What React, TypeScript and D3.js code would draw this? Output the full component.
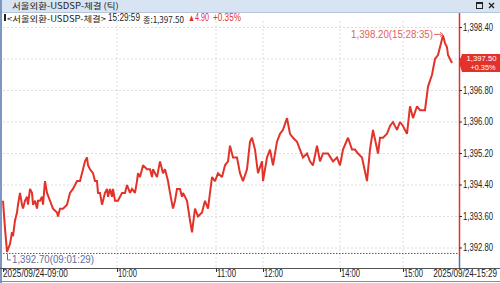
import React from "react";
import * as d3 from "d3";

// tick sequence number (order of trades along the session)
const seq = [0,2,4,7,9,10,12,14,15,17,19,20,22,24,25,27,29,30,32,34,35,37,39,40,42,44,47,50,54,55,57,60,64,67,70,74,77,79,82,84,85,87,90,92,94,95,97,99,102,104,105,107,109,110,112,115,119,122,124,127,129,132,134,135,137,140,144,147,149,150,154,157,159,160,162,165,167,170,172,174,177,179,180,184,187,189,192,195,199,202,205,209,212,215,219,222,225,227,230,234,237,240,244,247,249,252,255,259,260,264,267,270,274,277,280,284,287,290,294,297,300,304,307,310,314,317,320,325,330,334,337,340,345,349,352,355,359,364,367,370,375,377,380,384,387,390,394,397,400,404,407,410,414,417,422,425,429,432,435,439,440,442,444,445,449];
const prices = [1394.0,1393.3,1392.7,1392.9,1393.2,1393.1,1393.5,1393.7,1393.9,1394.2,
1393.9,1393.8,1394.0,1394.1,1393.9,1394.3,1394.2,1393.9,1394.0,1393.8,
1394.0,1394.0,1394.1,1393.9,1394.5,1394.2,1394.0,1393.8,1393.7,1393.6,
1393.8,1393.8,1393.9,1394.2,1394.3,1394.5,1394.5,1394.7,1395.0,1395.1,
1394.9,1394.8,1394.7,1394.5,1394.5,1394.2,1394.2,1393.9,1394.2,1394.3,
1394.1,1394.3,1394.1,1394.3,1394.0,1394.0,1394.2,1394.2,1394.4,1394.2,
1394.3,1394.2,1394.5,1394.7,1394.6,1394.9,1394.8,1394.8,1394.6,1394.8,
1394.6,1395.0,1394.8,1394.7,1394.8,1394.5,1394.2,1393.8,1394.0,1394.3,
1394.3,1394.1,1394.2,1394.0,1393.5,1393.2,1393.8,1393.6,1393.7,1394.0,
1393.8,1394.6,1394.5,1394.7,1394.6,1394.9,1395.0,1395.4,1395.1,1395.1,
1394.7,1394.5,1394.8,1395.5,1395.6,1395.3,1394.7,1395.0,1394.5,1395.1,
1395.3,1394.9,1395.5,1395.7,1395.8,1396.1,1395.7,1395.6,1395.5,1395.3,
1395.1,1395.2,1395.0,1394.9,1395.4,1395.0,1395.2,1395.2,1395.0,1395.1,
1394.9,1395.3,1395.6,1395.3,1395.3,1395.2,1395.1,1394.5,1395.3,1395.8,
1395.2,1395.6,1395.6,1395.7,1395.9,1396.0,1395.8,1396.0,1395.9,1395.7,
1396.4,1396.1,1396.4,1396.3,1396.3,1396.9,1397.2,1397.6,1397.7,1398.1,
1398.2,1398.0,1397.9,1397.7,1397.5];

const yTicks = [1398.4, 1397.6, 1396.8, 1396.0, 1395.2, 1394.4, 1393.6, 1392.8];
const timeTickLabels = ["10:00", "11:00", "12:00", "14:00", "15:00"];
const timeTickSeq = [114, 213, 260, 337, 400];
const startLabel = "2025/09/24-09:00";
const endLabel = "2025/09/24-15:29";
const seqEnd = 456;

const titleText = "서울외환-USDSP-체결 (틱)";
const legendName = "<서울외환-USDSP-체결>";
const legendTime = "15:29:59";
const legendClose = "종:1,397.50";
const legendChg = "▲4.90";
const legendPct = "+0.35%";
const lastPrice = 1397.5;
const lastPct = "+0.35%";
const maxLabel = "1,398.20(15:28:35)";
const minLabel = "1,392.70(09:01:29)";

const FONT = "'Noto Sans CJK KR', 'Liberation Sans', sans-serif";
const NUMFONT = "'Liberation Sans', Arial, sans-serif";
const RED = "#e2322a";

const fmt = d3.format(",.2f");

let measureCtx: CanvasRenderingContext2D | null = null;
function measure(text: string, size: number, font: string): number {
  if (!measureCtx && typeof document !== "undefined") {
    measureCtx = document.createElement("canvas").getContext("2d");
  }
  if (!measureCtx) return text.length * size * 0.55;
  measureCtx.font = `${size}px ${font}`;
  return measureCtx.measureText(text).width || text.length * size * 0.55;
}

function T(props: any) {
  const { x, y, len, size = 10, fill = "#222", anchor = "start", font = NUMFONT, children } = props;
  const str = String(children);
  const natural = measure(str, size, font);
  const sx = len ? len / natural : 1;
  return (
    <text transform={`translate(${x},${y}) scale(${sx},1)`} x={0} y={0} fontSize={size}
      fill={fill} textAnchor={anchor} fontFamily={font} dominantBaseline="central">{str}</text>
  );
}

export default function App() {
  const W = 500, H = 283;
  const x = d3.scaleLinear().domain([0, seqEnd]).range([3, 459]);
  const y = d3.scaleLinear().domain([1392.8, 1398.4]).range([248, 27.5]);
  const data = seq.map((s, i) => [s, prices[i]] as [number, number]);
  const line = d3.line<[number, number]>().x(d => x(d[0])).y(d => y(d[1]));

  const maxI = d3.maxIndex(prices);
  const minI = d3.minIndex(prices);
  const maxX = x(seq[maxI]), maxY = y(prices[maxI]);
  const minX = x(seq[minI]), minY = y(prices[minI]);
  const lastY = y(lastPrice);
  const plotTop = 13, plotBottom = 268;

  return (
    <svg width={W} height={H} style={{ position: "absolute", left: 0, top: 0, background: "#fff" }}>
      {/* title bar */}
      <rect x={0} y={0} width={W} height={12} fill="#d8e4f1" />
      <line x1={0} x2={W} y1={12.5} y2={12.5} stroke="#b4c6dc" />
      <T x={12} y={6} len={107} size={8.5} font={FONT} fill="#1e1e1e">{titleText}</T>
      <rect x={476.5} y={2.5} width={6} height={6} fill="none" stroke="#222" />
      <line x1={476.5} x2={482.5} y1={3.5} y2={3.5} stroke="#222" />
      <path d="M489,3 L494,8 M494,3 L489,8" stroke="#222" strokeWidth={1.3} />

      {/* left strip */}
      <rect x={0} y={0} width={2} height={H} fill="#7d97c2" />

      {/* legend */}
      <rect x={4} y={14} width={2} height={7} fill="#222" />
      <T x={7} y={18.5} len={99} size={8.5} font={FONT}>{legendName}</T>
      <T x={108} y={18} len={32} size={10}>{legendTime}</T>
      <T x={143} y={18.5} len={41} size={8.5} font={FONT}>{legendClose}</T>
      <T x={188} y={18} len={21} size={10} fill={RED}>{legendChg}</T>
      <T x={213} y={18} len={28} size={10} fill={RED}>{legendPct}</T>

      {/* grid */}
      {yTicks.map((t, i) => (
        <line key={"gy" + i} x1={3} x2={459} y1={y(t)} y2={y(t)} stroke="#dcdcdc" strokeDasharray="2,2" />
      ))}
      {timeTickSeq.map((s, i) => (
        <line key={"gx" + i} x1={x(s)} x2={x(s)} y1={21} y2={plotBottom} stroke="#dcdcdc" strokeDasharray="2,2" />
      ))}

      {/* min line */}
      <line x1={3} x2={459} y1={minY + 1.5} y2={minY + 1.5} stroke="#555" strokeDasharray="1.5,1.5" />

      {/* price line */}
      <path d={line(data) || ""} fill="none" stroke={RED} strokeWidth={2} strokeLinejoin="miter" strokeMiterlimit={2} />

      {/* max annotation */}
      <T x={433} y={maxY - 1} len={82} size={10} fill="#e06060" anchor="end">{maxLabel}</T>
      <line x1={434} x2={441} y1={maxY - 1} y2={maxY - 1} stroke="#e06060" />
      <path d={`M${maxX - 3},${maxY - 3} L${maxX},${maxY - 1} L${maxX - 3},${maxY + 1}`} fill="none" stroke="#e06060" />

      {/* min annotation */}
      <path d={`M${minX + 0.5},${minY + 2} V${minY + 8} H${minX + 4}`} fill="none" stroke="#5d6e9e" />
      <T x={minX + 5} y={minY + 8} len={82} size={10} fill="#5d6e9e">{minLabel}</T>

      {/* right axis */}
      <line x1={459.5} x2={459.5} y1={plotTop} y2={256} stroke={RED} strokeWidth={1.5} />
      <line x1={459.5} x2={459.5} y1={256} y2={plotBottom} stroke="#4a72b8" strokeWidth={1.5} />
      {yTicks.map((t, i) => (
        <g key={"yl" + i}>
          <line x1={459} x2={462} y1={y(t)} y2={y(t)} stroke="#333" />
          {Math.abs(y(t) - lastY) > 10 && <T x={463} y={y(t)} len={30} size={10}>{fmt(t)}</T>}
        </g>
      ))}
      <path d={`M459,${lastY} L462,${lastY - 9} H500 V${lastY + 9} H462 Z`} fill={RED} />
      <T x={481.5} y={lastY - 4.6} len={30} size={8} fill="#fff" anchor="middle">{fmt(lastPrice)}</T>
      <T x={483} y={lastY + 4.6} len={25} size={8} fill="#fff" anchor="middle">{lastPct}</T>

      {/* x axis */}
      <line x1={0} x2={W} y1={plotBottom + 0.5} y2={plotBottom + 0.5} stroke="#555" />
      <line x1={3.5} x2={3.5} y1={plotBottom} y2={plotBottom + 4} stroke="#333" />
      <T x={3} y={274} len={65} size={10}>{startLabel}</T>
      {timeTickSeq.map((s, i) => (
        <g key={"xt" + i}>
          <line x1={x(s) + 0.5} x2={x(s) + 0.5} y1={plotBottom} y2={plotBottom + 4} stroke="#333" />
          <T x={x(s) + 1} y={274} len={19} size={10}>{timeTickLabels[i]}</T>
        </g>
      ))}
      <T x={497} y={274} len={64} size={10} anchor="end">{endLabel}</T>
      <line x1={0} x2={W} y1={281.5} y2={281.5} stroke="#8a8a8a" />
    </svg>
  );
}
